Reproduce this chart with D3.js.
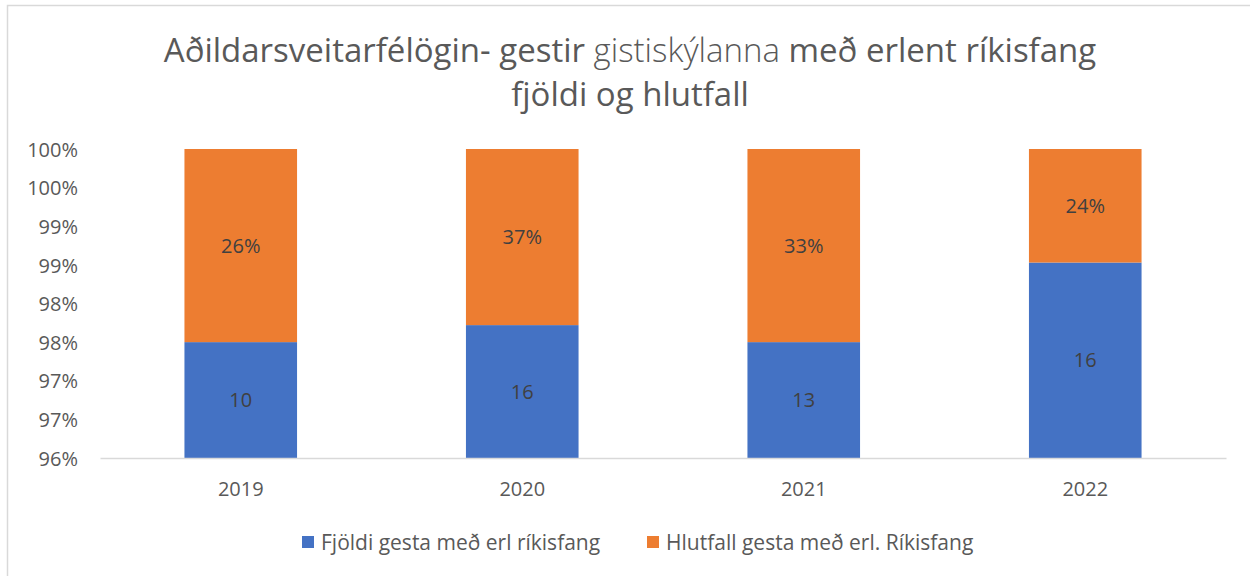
<!DOCTYPE html>
<html>
<head>
<meta charset="utf-8">
<script src="https://cdn.jsdelivr.net/npm/d3@7"></script>
<style>
  body { margin: 0; background: #fff; }
  text { font-family: "Open Sans", sans-serif; }
</style>
</head>
<body>
<div id="chart"></div>
<script>
    // Data
    const years = ["2019", "2020", "2021", "2022"];
    const guestCounts = [10.14, 15.86, 12.87, 16.09];   // Fjöldi gesta með erl ríkisfang
    const guestShares = [0.26, 0.37, 0.33, 0.24];       // Hlutfall gesta með erl. Ríkisfang
    const seriesNames = ["Fjöldi gesta með erl ríkisfang", "Hlutfall gesta með erl. Ríkisfang"];
    const yTicks = [0.96, 0.965, 0.97, 0.975, 0.98, 0.985, 0.99, 0.995, 1.0];
    const yTickLabels = ["96%", "97%", "97%", "98%", "98%", "99%", "99%", "100%", "100%"];

    const width = 1250;
    const height = 576;
    const colors = ["#4472c4", "#ed7d31"];

    const svg = d3.select("#chart").append("svg")
        .attr("width", width)
        .attr("height", height);

    // chart area border (only top and left visible in the crop)
    svg.append("rect")
        .attr("x", 7.5).attr("y", 5.5)
        .attr("width", width + 20).attr("height", height + 20)
        .attr("fill", "#fff")
        .attr("stroke", "#d9d9d9")
        .attr("stroke-width", 1.5);

    // 100% stacked: normalise each year
    const data = years.map((y, i) => {
        const total = guestCounts[i] + guestShares[i];
        return { year: y, count: guestCounts[i], share: guestShares[i],
                 p0: guestCounts[i] / total, p1: 1 };
    });

    const x = d3.scaleBand()
        .domain(years)
        .range([100, 1226])
        .paddingInner(0.6)
        .paddingOuter(0.3);

    const y = d3.scaleLinear()
        .domain([0.96, 1.0])
        .range([458, 149]);

    // y axis labels
    const yAxis = d3.axisLeft(y)
        .tickValues(yTicks)
        .tickFormat((d, i) => yTickLabels[i])
        .tickSize(0)
        .tickPadding(0);

    svg.append("g")
        .attr("transform", "translate(78,0)")
        .call(yAxis)
        .call(g => g.select(".domain").remove())
        .selectAll("text")
        .attr("fill", "#595959")
        .style("font-size", "20px")
        .attr("dy", "0.36em");

    // bars
    const cat = svg.append("g");
    cat.selectAll(".blue")
        .data(data)
        .join("rect")
        .attr("x", d => x(d.year))
        .attr("y", d => y(d.p0))
        .attr("width", x.bandwidth())
        .attr("height", d => y(0.96) - y(d.p0))
        .attr("fill", colors[0]);

    cat.selectAll(".orange")
        .data(data)
        .join("rect")
        .attr("x", d => x(d.year))
        .attr("y", d => y(d.p1))
        .attr("width", x.bandwidth())
        .attr("height", d => y(d.p0) - y(d.p1))
        .attr("fill", colors[1]);

    // data labels
    cat.selectAll(".lblBlue")
        .data(data)
        .join("text")
        .attr("x", d => x(d.year) + x.bandwidth() / 2)
        .attr("y", d => (y(d.p0) + y(0.96)) / 2)
        .attr("dy", "0.36em")
        .attr("text-anchor", "middle")
        .attr("fill", "#404040")
        .style("font-size", "20px")
        .text(d => d3.format(".0f")(d.count));

    cat.selectAll(".lblOrange")
        .data(data)
        .join("text")
        .attr("x", d => x(d.year) + x.bandwidth() / 2)
        .attr("y", d => (y(d.p0) + y(d.p1)) / 2)
        .attr("dy", "0.36em")
        .attr("text-anchor", "middle")
        .attr("fill", "#404040")
        .style("font-size", "20px")
        .text(d => d3.format(".0%")(d.share));

    // x axis
    const xAxis = d3.axisBottom(x).tickSize(0).tickPadding(0);
    svg.append("g")
        .attr("transform", "translate(0,458)")
        .call(xAxis)
        .call(g => g.select(".domain").attr("stroke", "#d9d9d9").attr("stroke-width", 1.5))
        .selectAll("text")
        .attr("fill", "#595959")
        .style("font-size", "20px")
        .attr("y", 38)
        .attr("dy", "0");

    // chart title
    const title = svg.append("text")
        .attr("x", 630)
        .attr("y", 62)
        .attr("text-anchor", "middle")
        .attr("fill", "#595959")
        .style("font-size", "33px");
    title.append("tspan").text("Aðildarsveitarfélögin- gestir ");
    title.append("tspan").style("font-weight", 300).text("gistiskýlanna");
    title.append("tspan").text(" með erlent ríkisfang");

    svg.append("text")
        .attr("x", 630)
        .attr("y", 106)
        .attr("text-anchor", "middle")
        .attr("fill", "#595959")
        .style("font-size", "33px")
        .text("fjöldi og hlutfall");

    // legend
    const legendX = [302, 647];
    const legend = svg.append("g");
    seriesNames.forEach((name, i) => {
        legend.append("rect")
            .attr("x", legendX[i])
            .attr("y", 536)
            .attr("width", 12)
            .attr("height", 12)
            .attr("fill", colors[i]);
        legend.append("text")
            .attr("x", legendX[i] + 19)
            .attr("y", 542)
            .attr("dy", "0.36em")
            .attr("fill", "#595959")
            .style("font-size", "21px")
            .text(name);
    });
</script>
</body>
</html>
